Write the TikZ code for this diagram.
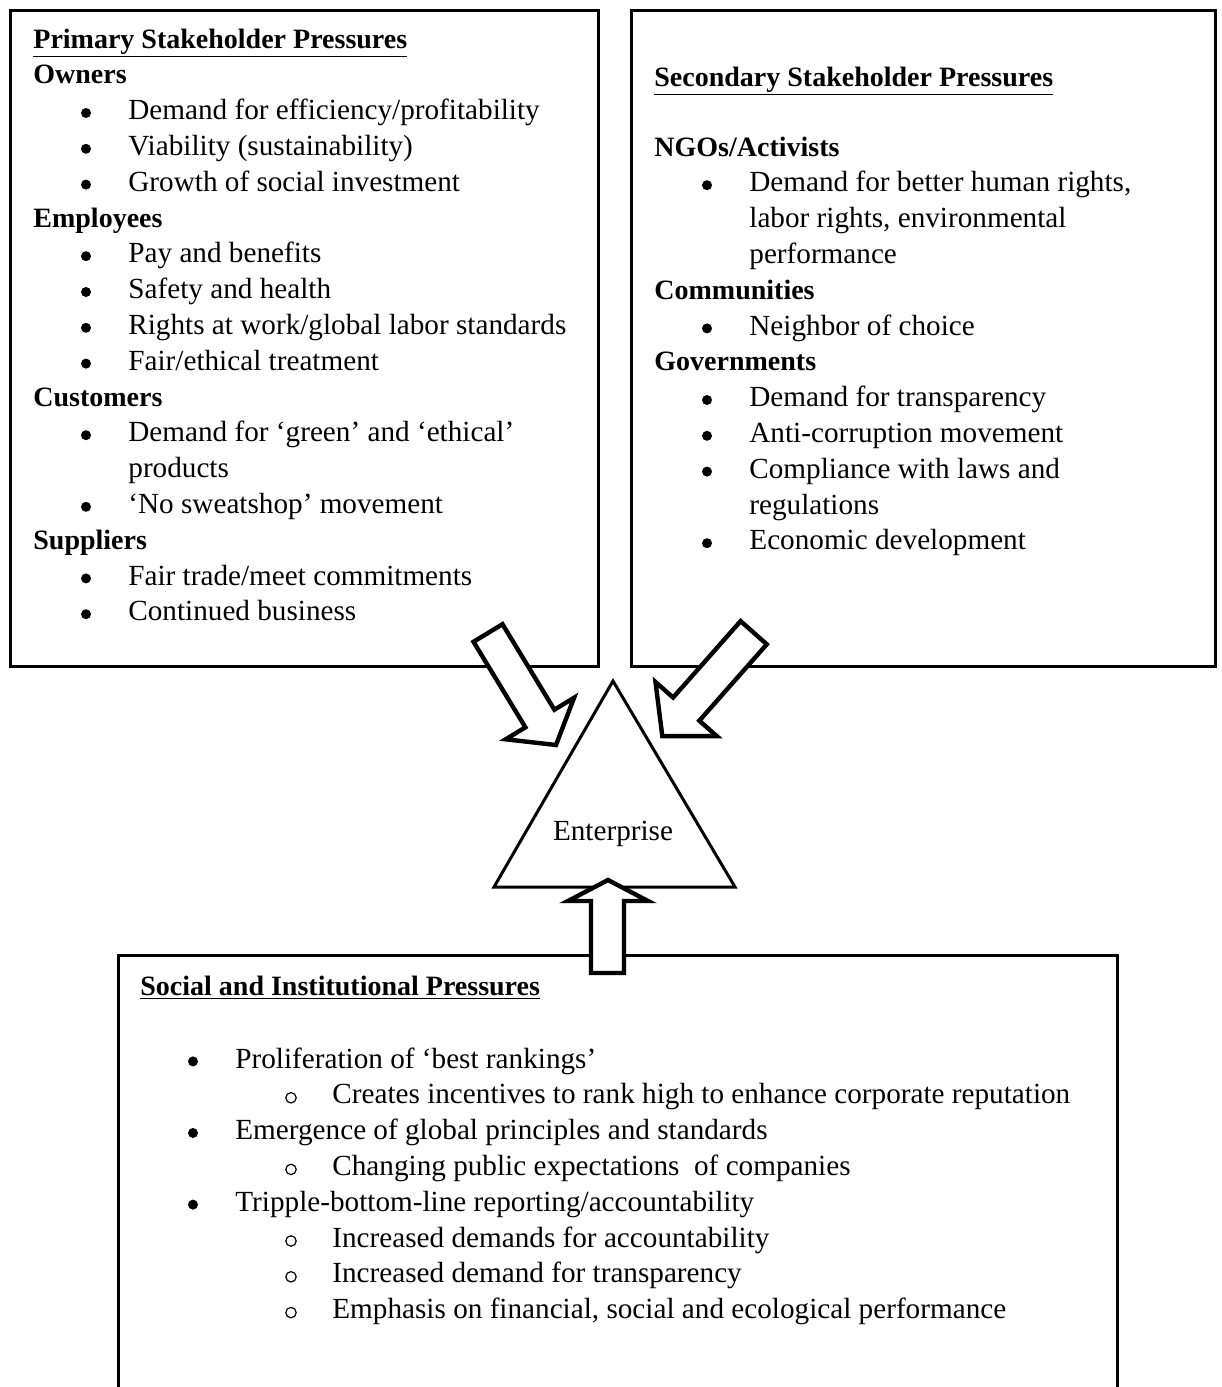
\documentclass[tikz,border=0pt]{standalone}
\usepackage{fontspec}
\setmainfont{Liberation Serif}
\newcommand\fsz{\fontsize{14.6}{16}\selectfont}
\newcommand\hsz{\fontsize{14}{16}\selectfont}
\begin{document}
\begin{tikzpicture}[x=0.5pt,y=-0.5pt,
  txt/.style={anchor=base west,inner sep=0pt,font=\fsz},
  hdr/.style={anchor=base west,inner sep=0pt,font=\hsz\bfseries},
  bul/.style={circle,fill=black,inner sep=0pt,minimum size=5pt,yshift=3.3pt},
  sbul/.style={circle,draw=black,line width=0.6pt,inner sep=0pt,minimum size=5.2pt,yshift=3pt},
  boxline/.style={line width=1.5pt},
  blockarrow/.style={line width=2.2pt,fill=white,line join=miter},
  tri/.style={line width=1.5pt,line join=miter}]
\useasboundingbox (0,0) rectangle (1221,1387);
% boxes
\draw[boxline] (10,10) rectangle (598,666);
\draw[boxline] (631,10) rectangle (1215,666);
\draw[boxline] (118,1387) -- (118,955) -- (1117,955) -- (1117,1387);
% left box text
\node[hdr] (pt) at (33,48) {\underline{Primary Stakeholder Pressures}};
\node[hdr] (ow) at (33,83.8) {Owners};
\node[bul] (ob1) at (86,119.6) {}; \node[txt] (o1) at (128,119.6) {Demand for efficiency/profitability};
\node[bul] (ob2) at (86,155.4) {}; \node[txt] (o2) at (128,155.4) {Viability (sustainability)};
\node[bul] (ob3) at (86,191.2) {}; \node[txt] (o3) at (128,191.2) {Growth of social investment};
\node[hdr] (em) at (33,227) {Employees};
\node[bul] (eb1) at (86,262.8) {}; \node[txt] (e1) at (128,262.8) {Pay and benefits};
\node[bul] (eb2) at (86,298.6) {}; \node[txt] (e2) at (128,298.6) {Safety and health};
\node[bul] (eb3) at (86,334.4) {}; \node[txt] (e3) at (128,334.4) {Rights at work/global labor standards};
\node[bul] (eb4) at (86,370.2) {}; \node[txt] (e4) at (128,370.2) {Fair/ethical treatment};
\node[hdr] (cu) at (33,406) {Customers};
\node[bul] (cb1) at (86,441.8) {}; \node[txt] (c1) at (128,441.8) {Demand for `green' and `ethical'};
\node[txt] (c1b) at (128,477.6) {products};
\node[bul] (cb2) at (86,513.4) {}; \node[txt] (c2) at (128,513.4) {`No sweatshop' movement};
\node[hdr] (su) at (33,549.2) {Suppliers};
\node[bul] (sb1) at (86,585) {}; \node[txt] (s1) at (128,585) {Fair trade/meet commitments};
\node[bul] (sb2) at (86,620.8) {}; \node[txt] (s2) at (128,620.8) {Continued business};
% right box text
\node[hdr] (st) at (654,86) {\underline{Secondary Stakeholder Pressures}};
\node[hdr] (ng) at (654,156) {NGOs/Activists};
\node[bul] (nb1) at (707,191.8) {}; \node[txt] (n1) at (749,191.8) {Demand for better human rights,};
\node[txt] (n1b) at (749,227.6) {labor rights, environmental};
\node[txt] (n1c) at (749,263.4) {performance};
\node[hdr] (co) at (654,299.2) {Communities};
\node[bul] (kb1) at (707,335) {}; \node[txt] (k1) at (749,335) {Neighbor of choice};
\node[hdr] (go) at (654,370.8) {Governments};
\node[bul] (gb1) at (707,406.6) {}; \node[txt] (g1) at (749,406.6) {Demand for transparency};
\node[bul] (gb2) at (707,442.4) {}; \node[txt] (g2) at (749,442.4) {Anti-corruption movement};
\node[bul] (gb3) at (707,478.2) {}; \node[txt] (g3) at (749,478.2) {Compliance with laws and};
\node[txt] (g3b) at (749,514) {regulations};
\node[bul] (gb4) at (707,549.8) {}; \node[txt] (g4) at (749,549.8) {Economic development};
% bottom box text
\node[hdr] (so) at (140,995) {\underline{Social and Institutional Pressures}};
\node[bul] (pb1) at (193,1068) {}; \node[txt] (p1) at (235,1068) {Proliferation of `best rankings'};
\node[sbul] (qb1) at (291,1103.8) {}; \node[txt] (q1) at (332,1103.8) {Creates incentives to rank high to enhance corporate reputation};
\node[bul] (pb2) at (193,1139.6) {}; \node[txt] (p2) at (235,1139.6) {Emergence of global principles and standards};
\node[sbul] (qb2) at (291,1175.4) {}; \node[txt] (q2) at (332,1175.4) {Changing public expectations\ \ of companies};
\node[bul] (pb3) at (193,1211.2) {}; \node[txt] (p3) at (235,1211.2) {Tripple-bottom-line reporting/accountability};
\node[sbul] (qb3) at (291,1247) {}; \node[txt] (q3) at (332,1247) {Increased demands for accountability};
\node[sbul] (qb4) at (291,1282.8) {}; \node[txt] (q4) at (332,1282.8) {Increased demand for transparency};
\node[sbul] (qb5) at (291,1318.6) {}; \node[txt] (q5) at (332,1318.6) {Emphasis on financial, social and ecological performance};
% triangle
\draw[tri] (613,681) -- (735,887) -- (494,887) -- cycle;
\node[inner sep=0pt,font=\fsz] (ent) at (613,834) {Enterprise};
% block arrows
\draw[blockarrow] (473.5,641.8) -- (525.4,727.3) -- (505.7,739.3) -- (556.0,745.0) -- (574.1,697.7) -- (554.4,709.7) -- (502.5,624.2) -- cycle;
\draw[blockarrow] (740.6,621.1) -- (673.1,697.5) -- (655.5,682.0) -- (662.3,736.1) -- (716.9,736.2) -- (699.3,720.7) -- (766.8,644.3) -- cycle;
\draw[blockarrow] (591,973) -- (591,901) -- (568,901) -- (608,880) -- (648,901) -- (624,901) -- (624,973) -- cycle;
\end{tikzpicture}
\end{document}
